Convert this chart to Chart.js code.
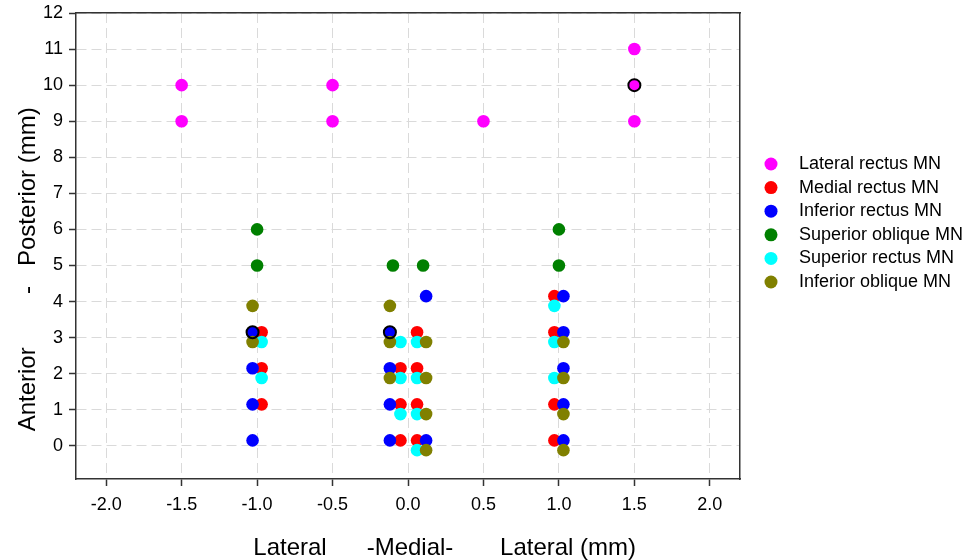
<!DOCTYPE html>
<html>
<head>
<meta charset="utf-8">
<title>Motor neuron positions</title>
<script src="https://cdn.jsdelivr.net/npm/chart.js@4.4.1/dist/chart.umd.min.js"></script>
<style>
  html, body { margin: 0; padding: 0; background: #ffffff; }
  #wrap { width: 969px; height: 560px; position: relative; }
</style>
</head>
<body>
<div id="wrap"><canvas id="chart"></canvas></div>
<script>
// Series, in legend order
const seriesNames = ['Lateral rectus MN', 'Medial rectus MN', 'Inferior rectus MN',
  'Superior oblique MN', 'Superior rectus MN', 'Inferior oblique MN'];
const seriesColors = ['#ff00ff', '#ff0000', '#0000ff', '#008000', '#00ffff', '#808000'];

// Lateral rectus MN
const lateralRectusX = [-1.5, -1.5, -0.5, -0.5, 0.5, 1.5, 1.5, 1.5];
const lateralRectusY = [10, 9, 10, 9, 9, 11, 10, 9];

// Medial rectus MN
const medialRectusX = [-0.97, -0.97, -0.97, -0.05, -0.05, -0.05, 0.06, 0.06, 0.06, 0.06, 0.97, 0.97, 0.97, 0.97];
const medialRectusY = [3.15, 2.15, 1.15, 2.15, 1.15, 0.15, 3.15, 2.15, 1.15, 0.15, 4.15, 3.15, 1.15, 0.15];

// Inferior rectus MN
const inferiorRectusX = [-1.03, -1.03, -1.03, -1.03, -0.12, -0.12, -0.12, -0.12, 0.12, 0.12, 1.03, 1.03, 1.03, 1.03, 1.03];
const inferiorRectusY = [3.15, 2.15, 1.15, 0.15, 3.15, 2.15, 1.15, 0.15, 4.15, 0.15, 4.15, 3.15, 2.15, 1.15, 0.15];

// Superior oblique MN
const superiorObliqueX = [-1, -1, -0.1, 0.1, 1, 1];
const superiorObliqueY = [6, 5, 5, 5, 6, 5];

// Superior rectus MN
const superiorRectusX = [-0.97, -0.97, -0.05, -0.05, -0.05, 0.06, 0.06, 0.06, 0.06, 0.97, 0.97, 0.97];
const superiorRectusY = [2.88, 1.88, 2.88, 1.88, 0.88, 2.88, 1.88, 0.88, -0.12, 3.88, 2.88, 1.88];

// Inferior oblique MN
const inferiorObliqueX = [-1.03, -1.03, -0.12, -0.12, -0.12, 0.12, 0.12, 0.12, 0.12, 1.03, 1.03, 1.03, 1.03];
const inferiorObliqueY = [3.88, 2.88, 3.88, 2.88, 1.88, 2.88, 1.88, 0.88, -0.12, 2.88, 1.88, 0.88, -0.12];

// Points drawn with a black outline
const markedX = [-1.03, -0.12, 1.5];
const markedY = [3.15, 3.15, 10];

// Axes
const xMin = -2.2, xMax = 2.2, xStep = 0.5;
const yMin = -0.92, yMax = 12, yStep = 1;
const xTitle = '           Lateral      -Medial-       Lateral (mm)';
const yTitle = 'Anterior        -   Posterior (mm)       ';

const seriesX = [lateralRectusX, medialRectusX, inferiorRectusX, superiorObliqueX, superiorRectusX, inferiorObliqueX];
const seriesY = [lateralRectusY, medialRectusY, inferiorRectusY, superiorObliqueY, superiorRectusY, inferiorObliqueY];

function toPoints(xs, ys) {
    return xs.map((x, i) => ({ x: x, y: ys[i] }));
}

const datasets = seriesNames.map((name, i) => ({
    label: name,
    data: toPoints(seriesX[i], seriesY[i]),
    backgroundColor: seriesColors[i],
    borderColor: seriesColors[i],
    pointRadius: 6.3,
    pointBorderWidth: 0,
    order: 10 - i // later series on top
}));

datasets.push({
    label: '',
    data: toPoints(markedX, markedY),
    backgroundColor: 'rgba(0,0,0,0)',
    borderColor: '#000000',
    pointRadius: 6,
    pointBorderWidth: 2,
    order: 0
});

Chart.defaults.font.family = "'Liberation Sans', Arial, sans-serif";
Chart.defaults.color = '#000000';

const axisColor = '#333333';
const gridColor = '#dadada';

new Chart(document.getElementById('chart'), {
    type: 'scatter',
    data: { datasets: datasets },
    options: {
        responsive: true,
        maintainAspectRatio: false,
        animation: false,
        devicePixelRatio: 1,
        layout: { padding: 0 },
        plugins: {
            tooltip: { enabled: false },
            legend: {
                position: 'right',
                align: 'start',
                maxWidth: 212.6,
                title: { display: true, text: '', padding: { top: 135, bottom: 0 } },
                labels: {
                    usePointStyle: true,
                    pointStyle: 'circle',
                    boxHeight: 9.2,
                    padding: 5.6,
                    color: '#000000',
                    font: { size: 18 },
                    filter: (item) => item.datasetIndex < seriesNames.length,
                    sort: (a, b) => a.datasetIndex - b.datasetIndex,
                    generateLabels: (chart) => Chart.defaults.plugins.legend.labels.generateLabels(chart)
                        .map((item) => Object.assign(item, { text: '  ' + item.text }))
                }
            }
        },
        scales: {
            x: {
                type: 'linear',
                position: 'bottom',
                min: xMin,
                max: xMax,
                ticks: {
                    stepSize: xStep,
                    includeBounds: false,
                    padding: 8,
                    font: { size: 18 },
                    callback: (v) => Number(v).toFixed(1)
                },
                grid: { color: gridColor, lineWidth: 1, tickColor: axisColor, tickLength: 7, tickWidth: 1.5 },
                border: { display: true, color: axisColor, width: 1.5, dash: [10, 5] },
                title: { display: true, text: xTitle, font: { size: 24, lineHeight: 1 }, padding: { top: 22, bottom: 0 } },
                afterFit: (s) => { s.height = 81; }
            },
            y: {
                type: 'linear',
                position: 'left',
                min: yMin,
                max: yMax,
                ticks: { stepSize: yStep, includeBounds: false, padding: 6, font: { size: 18 } },
                grid: { color: gridColor, lineWidth: 1, tickColor: axisColor, tickLength: 7, tickWidth: 1.5 },
                border: { display: true, color: axisColor, width: 1.5, dash: [10, 5] },
                title: { display: true, text: yTitle, font: { size: 24, lineHeight: 1 }, padding: { top: 16, bottom: 0 } },
                afterFit: (s) => { s.width = 76; s.paddingTop = 13; s.paddingBottom = 0; }
            },
            // top and right frame lines
            xTop: {
                type: 'linear',
                position: 'top',
                z: 1,
                ticks: { display: false },
                grid: { display: false },
                border: { display: true, color: axisColor, width: 1.5 },
                afterFit: (s) => { s.height = 0; }
            },
            yRight: {
                type: 'linear',
                position: 'right',
                z: 1,
                ticks: { display: false },
                grid: { display: false },
                border: { display: true, color: axisColor, width: 1.5 },
                afterFit: (s) => { s.width = 16.4; }
            }
        }
    }
});
</script>
</body>
</html>
